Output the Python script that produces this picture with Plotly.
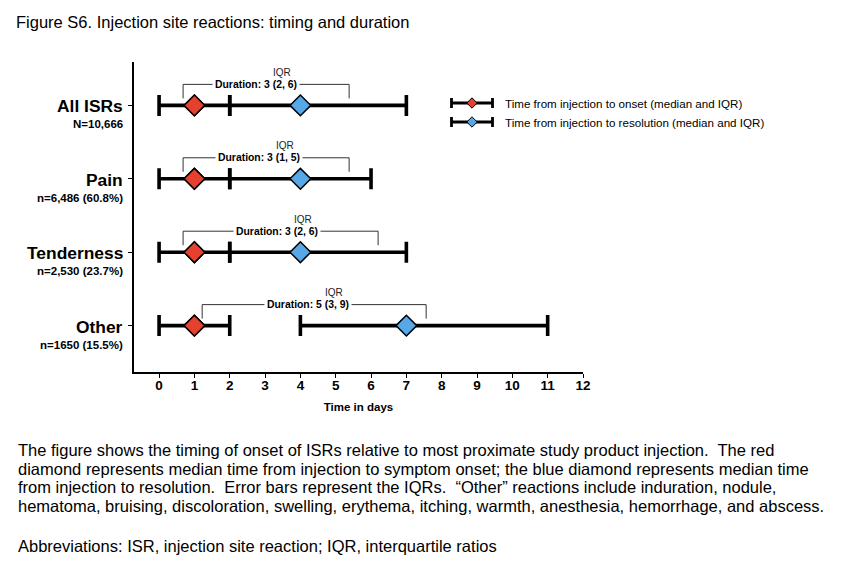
import plotly.graph_objects as go

# ---------------- data ----------------
categories = ["All ISRs", "Pain", "Tenderness", "Other"]
counts = ["N=10,666", "n=6,486 (60.8%)", "n=2,530 (23.7%)", "n=1650 (15.5%)"]
onset_median = [1, 1, 1, 1]
onset_q1 = [0, 0, 0, 0]
onset_q3 = [2, 2, 2, 2]
resol_median = [4, 4, 4, 7]
resol_q1 = [2, 2, 2, 4]
resol_q3 = [7, 6, 7, 11]
duration_labels = ["Duration: 3 (2, 6)", "Duration: 3 (1, 5)", "Duration: 3 (2, 6)", "Duration: 5 (3, 9)"]
x_ticks = list(range(0, 13))

# ---------------- layout constants ----------------
row_y = [4, 3, 2, 1]
bracket_left = [0.68, 0.68, 0.68, 1.22]
bracket_right = [5.38, 5.38, 6.2, 7.56]
duration_text_x = [2.73, 2.82, 3.33, 4.22]

RED = "#E5412E"
BLUE = "#56A9E6"
FONT = "Arial, Liberation Sans, sans-serif"

OFF = 8  # page body margin compensation
W, H = 850, 574
ML, MT = 134 - OFF, 62 - OFF
pw, ph = 449, 310
MR, MB = W - ML - pw, H - MT - ph

fig = go.Figure()

# onset
fig.add_trace(go.Scatter(
    x=onset_median, y=row_y, mode="markers",
    marker=dict(symbol="diamond", size=16, color=RED, line=dict(color="black", width=1.5)),
    error_x=dict(type="data", symmetric=False,
                 array=[q3 - m for q3, m in zip(onset_q3, onset_median)],
                 arrayminus=[m - q1 for q1, m in zip(onset_q1, onset_median)],
                 color="black", thickness=3.6, width=10.5),
    showlegend=False, hoverinfo="skip"))
# resolution
fig.add_trace(go.Scatter(
    x=resol_median, y=row_y, mode="markers",
    marker=dict(symbol="diamond", size=16, color=BLUE, line=dict(color="black", width=1.5)),
    error_x=dict(type="data", symmetric=False,
                 array=[q3 - m for q3, m in zip(resol_q3, resol_median)],
                 arrayminus=[m - q1 for q1, m in zip(resol_q1, resol_median)],
                 color="black", thickness=3.6, width=10.5),
    showlegend=False, hoverinfo="skip"))
# onset markers again on top
fig.add_trace(go.Scatter(
    x=onset_median, y=row_y, mode="markers",
    marker=dict(symbol="diamond", size=16, color=RED, line=dict(color="black", width=1.5)),
    showlegend=False, hoverinfo="skip"))

shapes = []
annotations = []
for i in range(len(categories)):
    shapes.append(dict(
        type="path", xref="x", yref="y", ysizemode="pixel", yanchor=row_y[i],
        path=f"M {bracket_left[i]},7 L {bracket_left[i]},21 L {bracket_right[i]},21 L {bracket_right[i]},7",
        line=dict(color="#333333", width=1)))
    annotations.append(dict(
        x=duration_text_x[i], y=row_y[i], xref="x", yref="y", yshift=21,
        text=f"<b>{duration_labels[i]}</b>", showarrow=False,
        font=dict(family=FONT, size=10.4, color="black"),
        bgcolor="white", borderpad=2))
    annotations.append(dict(
        x=duration_text_x[i], y=row_y[i], xref="x", yref="y", yshift=33, xshift=26,
        text="IQR", showarrow=False,
        font=dict(family=FONT, size=10, color="#222222")))
    annotations.append(dict(
        x=0, y=row_y[i], xref="paper", yref="y", xanchor="right", xshift=-9, yshift=-1,
        text=f"<b>{categories[i]}</b>", showarrow=False,
        font=dict(family=FONT, size=17.4, color="black")))
    annotations.append(dict(
        x=0, y=row_y[i], xref="paper", yref="y", xanchor="right", xshift=-9, yshift=-19,
        text=f"<b>{counts[i]}</b>", showarrow=False,
        font=dict(family=FONT, size=11.5, color="black")))

# ---------------- legend (pixel-unit overlay axis) ----------------
legend_labels = ["Time from injection to onset (median and IQR)",
                 "Time from injection to resolution (median and IQR)"]
legend_colors = [RED, BLUE]
legend_py = [41, 60]
for lab, col, py in zip(legend_labels, legend_colors, legend_py):
    fig.add_trace(go.Scatter(
        x=[338], y=[py], xaxis="x2", yaxis="y2", mode="markers",
        marker=dict(symbol="diamond", size=8, color=col, line=dict(color="black", width=1)),
        error_x=dict(type="data", array=[20.5], color="black", thickness=2.8, width=5),
        showlegend=False, hoverinfo="skip"))
    annotations.append(dict(
        x=369, y=py, xref="x2", yref="y2", xanchor="left", text=lab, showarrow=False,
        font=dict(family=FONT, size=11.6, color="black")))

# ---------------- title and caption ----------------
def px_to_paper(xp, yp):
    return (xp - OFF - ML) / pw, 1 - (yp - OFF - MT) / ph

tx, ty = px_to_paper(14, 22)
annotations.append(dict(
    x=tx, y=ty, xref="paper", yref="paper", xanchor="left", yanchor="middle",
    text="Figure S6. Injection site reactions: timing and duration",
    showarrow=False, font=dict(family=FONT, size=16.5, color="black")))

caption_lines = [
    "The figure shows the timing of onset of ISRs relative to most proximate study product injection.  The red",
    "diamond represents median time from injection to symptom onset; the blue diamond represents median time",
    "from injection to resolution.  Error bars represent the IQRs.  \u201cOther\u201d reactions include induration, nodule,",
    "hematoma, bruising, discoloration, swelling, erythema, itching, warmth, anesthesia, hemorrhage, and abscess.",
    "",
    "Abbreviations: ISR, injection site reaction; IQR, interquartile ratios",
]
caption_y = [450, 468.7, 487.4, 506.1, 0, 546]
for line, yy in zip(caption_lines, caption_y):
    if not line:
        continue
    cx, cy = px_to_paper(16, yy)
    annotations.append(dict(x=cx, y=cy, xref="paper", yref="paper", xanchor="left", yanchor="middle",
                            text=line, showarrow=False, font=dict(family=FONT, size=16.5, color="black")))

fig.update_layout(
    width=W, height=H, margin=dict(l=ML, r=MR, t=MT, b=MB, pad=0),
    paper_bgcolor="white", plot_bgcolor="white",
    xaxis=dict(range=[-0.71, 12.0], tickvals=x_ticks, ticktext=[f"<b>{t}</b>" for t in x_ticks],
               showline=True, linecolor="black", linewidth=1.5, ticks="outside", ticklen=4,
               tickcolor="black", tickwidth=1.2, showgrid=False, zeroline=False,
               ticklabelstandoff=-4,
               tickfont=dict(family=FONT, size=13.5, color="black"),
               title=dict(text="<b>Time in days</b>", font=dict(family=FONT, size=11.5, color="black"), standoff=11)),
    yaxis=dict(range=[0.368, 4.591], tickvals=row_y, ticktext=["" for _ in row_y],
               showline=True, linecolor="black", linewidth=1.5, ticks="outside", ticklen=4,
               tickcolor="black", tickwidth=1.2, showgrid=False, zeroline=False),
    xaxis2=dict(domain=[0, 1], range=[0, pw], overlaying="x", visible=False, anchor="y2"),
    yaxis2=dict(domain=[0, 1], range=[ph, 0], overlaying="y", visible=False, anchor="x2"),
    shapes=shapes, annotations=annotations, showlegend=False,
)

fig.write_html("out.html")
